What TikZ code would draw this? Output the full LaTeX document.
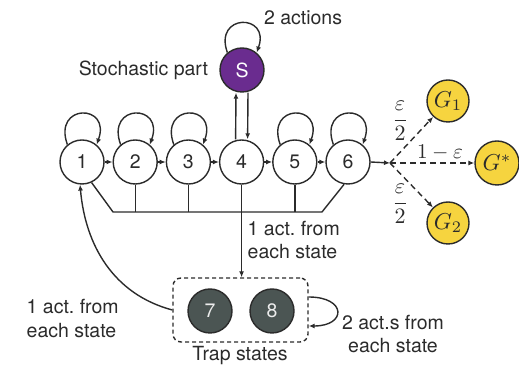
\documentclass[tikz,border=0pt]{standalone}
\usepackage{amsmath}
\usepackage{graphicx}
\usepackage{fontspec}
\setmainfont{TeX Gyre Heros}
\usetikzlibrary{arrows.meta}
\definecolor{spurple}{HTML}{6A2C8F}
\definecolor{goalyellow}{HTML}{F6D43F}
\definecolor{trapgray}{HTML}{4B5553}
\definecolor{inkc}{HTML}{2B2B2B}
\newcommand{\bigmath}[2]{\scalebox{#1}{\normalsize$#2$}}
\begin{document}
\begin{tikzpicture}[x=1pt,y=1pt, line width=1.4pt, draw=inkc, text=inkc,
  >={Latex[length=6pt,width=5pt]},
  every node/.style={font=\fontsize{19.5}{23.5}\selectfont},
  st/.style={circle,draw=inkc,minimum size=44pt,inner sep=0pt,fill=white},
  goal/.style={circle,draw=inkc,minimum size=42pt,inner sep=0pt,fill=goalyellow},
  trapst/.style={circle,draw=inkc,minimum size=44pt,inner sep=0pt,fill=trapgray,text=white!85!gray},
  lbl/.style={align=left,inner sep=0pt},
  mathlbl/.style={inner sep=0pt},
  dashline/.style={dash pattern=on 6pt off 4pt}]
\useasboundingbox (0,0) rectangle (519,366);
% chain states
\node[st] (n1) at (82,204) {1};
\node[st] (n2) at (135.2,204) {2};
\node[st] (n3) at (188.4,204) {3};
\node[st] (n4) at (241.6,204) {4};
\node[st] (n5) at (294.8,204) {5};
\node[st] (n6) at (348,204) {6};
% stochastic part
\node[st,fill=spurple,text=white] (S) at (242,296) {S};
% goals
\node[goal] (g1) at (448,265) {\bigmath{2.3}{G_1}};
\node[goal,minimum size=44pt] (gs) at (497,203) {\bigmath{2.3}{G^*}};
\node[goal] (g2) at (448,143) {\bigmath{2.3}{G_2}};
% trap states
\node[draw=inkc,rounded corners=8pt,minimum width=135pt,minimum height=64pt,dash pattern=on 4pt off 3pt] (trap) at (240.5,56) {};
\node[trapst] (n7) at (210,55) {7};
\node[trapst] (n8) at (272,55) {8};
% chain arrows
\foreach \a/\b in {n1/n2,n2/n3,n3/n4,n4/n5,n5/n6} \draw[->] (\a) -- (\b);
% self loops
\foreach \n in {n1,n2,n3,n5,n6}
  \draw[->] (\n.130) .. controls +(110:44) and +(70:44) .. (\n.50);
\draw[->] (S.130) .. controls +(110:42) and +(70:42) .. (S.50);
% S <-> 4
\draw[->] ([xshift=-6pt]n4.north) -- ([xshift=-6pt]S.south);
\draw[->] ([xshift=6pt]S.south) -- ([xshift=6pt]n4.north);
% bus
\coordinate (busL) at (113,154);
\coordinate (busR) at (322,154);
\draw (n1.-65) -- (busL) -- (busR) -- (n6.-100);
\foreach \n in {n2,n3,n5} \draw (\n.south) -- (\n.south |- busL);
\draw[->] (n4.south) -- (n4.south |- trap.north);
% to goals
\coordinate (jn) at (390,203);
\draw[->] (n6.east) -- (jn);
\draw[->,dashline] (jn) -- (g1);
\draw[->,dashline] (jn) -- (gs);
\draw[->,dashline] (jn) -- (g2);
% trap back to 1
\draw[->] (trap.west) to[out=165,in=-85] (n1.-95);
% trap self loop
\draw[->] ([yshift=13pt]trap.east) .. controls +(38,0) and +(38,0) .. ([yshift=-16pt]trap.east);
% labels
\node[anchor=east] (tsto) at (212,296) {Stochastic part};
\node[anchor=west] (tact) at (260,348) {2 actions};
\node[lbl,anchor=west] (tfrom4) at (247,126) {1 act.\ from\\each state};
\node[lbl,anchor=west] (tfromT) at (26,47.5) {1 act.\ from\\each state};
\node[align=center,inner sep=0pt] (tloop) at (393,32) {2 act.s from\\each state};
\node[anchor=base] (ttrap) at (240,5) {Trap states};
\node[mathlbl] (e1) at (400,245) {\bigmath{2.2}{\dfrac{\varepsilon}{2}}};
\node[mathlbl] (e2) at (400,162) {\bigmath{2.2}{\dfrac{\varepsilon}{2}}};
\node[mathlbl] (e3) at (440,213) {\bigmath{2.1}{1-\varepsilon}};
\end{tikzpicture}
\end{document}
